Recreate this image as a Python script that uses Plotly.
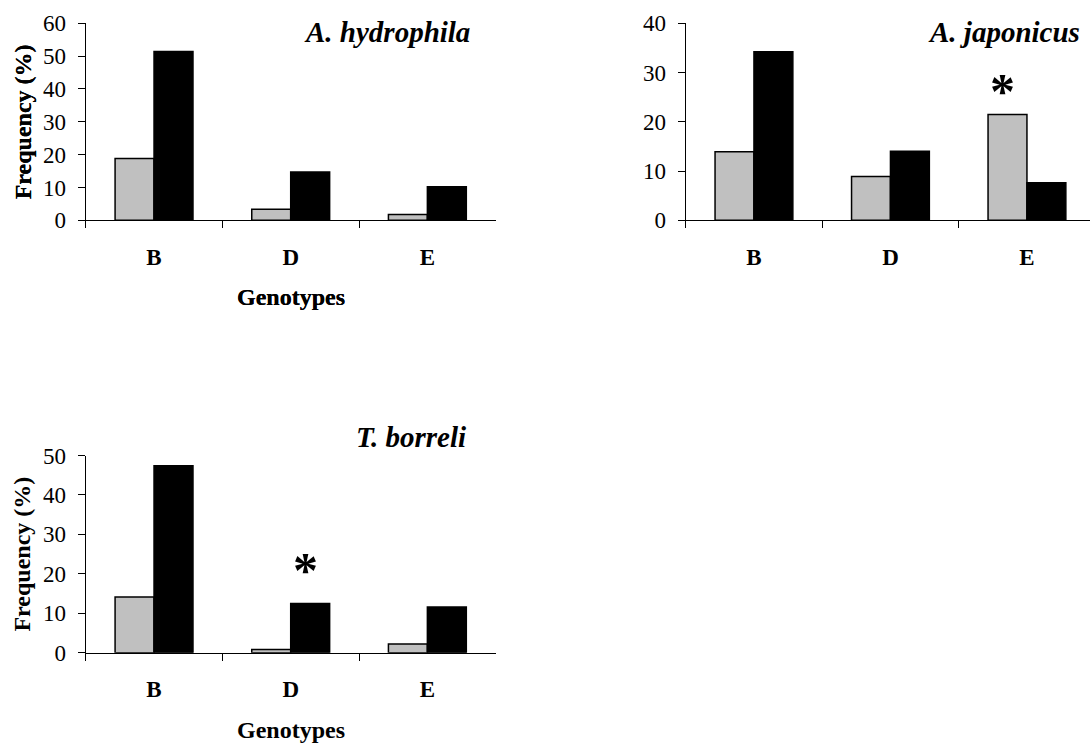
import plotly.graph_objects as go

genotypes = ["B", "D", "E"]
panel_titles = ["A. hydrophila", "A. japonicus", "T. borreli"]
gray_vals = [
    [18.8, 3.4, 1.8],
    [13.9, 8.9, 21.5],
    [14.1, 0.8, 2.2],
]
black_vals = [
    [51.4, 14.7, 10.2],
    [34.2, 14.0, 7.6],
    [47.4, 12.5, 11.6],
]
y_max = [60, 40, 50]
y_dtick = [10, 10, 10]
# significance stars: (panel index, genotype, offset within category, value)
star_panel = [1, 2]
star_cat = ["E", "D"]
star_offset = [-0.18, 0.11]
star_value = [27.5, 22.6]

W, H = 1090, 744
FONT = "Liberation Serif, Times New Roman, serif"

# pixel boxes: (left, right, top, bottom)
boxes = [
    (85.7, 495.7, 23.3, 220.3),
    (685.7, 1090.0, 23.3, 220.3),
    (85.7, 495.7, 455.5, 652.7),
]
x_ranges = [[-0.5, 2.5], [-0.5, 2.5 - 5.2 / 136.5], [-0.5, 2.5]]

fig = go.Figure()
layout = dict(
    width=W, height=H,
    margin=dict(l=0, r=0, t=0, b=0, autoexpand=False),
    paper_bgcolor="white", plot_bgcolor="white",
    showlegend=False, barmode="group", bargap=0.43, bargroupgap=0,
    font=dict(family=FONT, color="black"),
)
annotations = []

for i in range(3):
    sfx = "" if i == 0 else str(i + 1)
    xa, ya = "x" + sfx, "y" + sfx
    l, r, t, b = boxes[i]
    fig.add_trace(go.Bar(x=genotypes, y=gray_vals[i], xaxis=xa, yaxis=ya,
                         marker=dict(color="#c0c0c0", line=dict(color="black", width=1.5))))
    fig.add_trace(go.Bar(x=genotypes, y=black_vals[i], xaxis=xa, yaxis=ya,
                         marker=dict(color="black", line=dict(color="black", width=1.5))))
    layout["xaxis" + sfx] = dict(
        domain=[l / W, r / W], anchor=ya, range=x_ranges[i], automargin=False,
        type="category", showline=True, linecolor="black", linewidth=1.2,
        ticks="outside", tickson="boundaries", ticklen=7, tickcolor="black", tickwidth=1.2,
        tickfont=dict(family=FONT, size=23, color="black", weight="bold"),
        ticklabelstandoff=16, showgrid=False, zeroline=False, fixedrange=True,
    )
    layout["yaxis" + sfx] = dict(
        domain=[1 - b / H, 1 - t / H], anchor=xa, range=[0, y_max[i]], automargin=False,
        dtick=y_dtick[i], showline=True, linecolor="black", linewidth=1.2,
        ticks="outside", ticklen=7, tickcolor="black", tickwidth=1.2,
        tickfont=dict(family=FONT, size=23, color="black"),
        ticklabelstandoff=7, showgrid=False, zeroline=False, fixedrange=True,
    )
    hpx = b - t
    wpx = r - l
    # panel title
    if i == 2:
        tx, ty = 468.3, 437
    elif i == 0:
        tx, ty = 472.3, 32
    else:
        tx, ty = 1081.7, 32
    annotations.append(dict(
        text="<b><i>%s</i></b>" % panel_titles[i], xref=xa + " domain", yref=ya + " domain",
        x=(tx - l) / wpx, y=(b - ty) / hpx, xanchor="right", yanchor="middle",
        showarrow=False, font=dict(family=FONT, size=29, color="black")))
    # x title
    annotations.append(dict(
        text="<b>Genotypes</b>", xref=xa + " domain", yref=ya + " domain",
        x=(290.7 - l) / wpx, y=-77 / hpx, xanchor="center", yanchor="middle",
        showarrow=False, font=dict(family=FONT, size=24, color="black")))
    # y title
    annotations.append(dict(
        text="<b>Frequency (%)</b>", xref=xa + " domain", yref=ya + " domain",
        x=(22.5 - l) / wpx, y=0.5, xanchor="center", yanchor="middle", textangle=-90,
        showarrow=False, font=dict(family=FONT, size=24, color="black")))

for p, c, off, v in zip(star_panel, star_cat, star_offset, star_value):
    sfx = "" if p == 0 else str(p + 1)
    ci = genotypes.index(c)
    annotations.append(dict(
        text="<b>*</b>", xref="x" + sfx, yref="y" + sfx, x=ci + off, y=v,
        xanchor="center", yanchor="middle", yshift=-6, showarrow=False,
        font=dict(family=FONT, size=50, color="black")))

layout["annotations"] = annotations
fig.update_layout(**layout)
fig.write_html("out.html")
